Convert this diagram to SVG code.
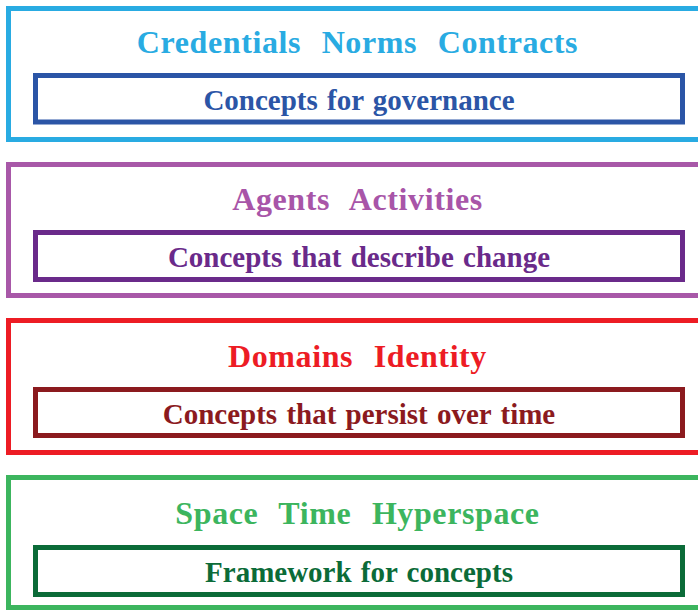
<svg xmlns="http://www.w3.org/2000/svg" width="698" height="610" viewBox="0 0 698 610">
  <style>
    .frame { fill: none; stroke-width: 5; }
    .inner { fill: none; stroke-width: 5; }
    text { font-family: "Liberation Serif", "Times New Roman", serif; font-weight: bold; text-anchor: middle; }
    .title { font-size: 32px; word-spacing: 12px; letter-spacing: 0.6px; }
    .sub { font-size: 29px; word-spacing: 2px; }
  </style>
  <rect width="698" height="610" fill="#ffffff"/>

  <!-- Layer 1: governance -->
  <g id="layer-governance">
    <rect class="frame" x="8.5" y="8.5" width="720" height="131" stroke="#29abe2"/>
    <text class="title" x="357.5" y="53" fill="#29abe2">Credentials Norms Contracts</text>
    <rect class="inner" x="35.5" y="75.5" width="647" height="46.5" stroke="#2b55a6"/>
    <text class="sub" x="359" y="110" fill="#2b55a6">Concepts for governance</text>
  </g>

  <!-- Layer 2: change -->
  <g id="layer-change">
    <rect class="frame" x="8.5" y="164.5" width="720" height="131" stroke="#a858a8"/>
    <text class="title" x="357.5" y="210" fill="#a855a8">Agents Activities</text>
    <rect class="inner" x="35.5" y="232.5" width="647" height="47" stroke="#6a2a8a"/>
    <text class="sub" x="359" y="267" fill="#6a2a8a">Concepts that describe change</text>
  </g>

  <!-- Layer 3: persistence -->
  <g id="layer-persistence">
    <rect class="frame" x="8.5" y="320.5" width="720" height="132" stroke="#ed1c24"/>
    <text class="title" x="357.5" y="367" fill="#ed1c24">Domains Identity</text>
    <rect class="inner" x="35.5" y="389.5" width="647" height="46" stroke="#8b1a1e"/>
    <text class="sub" x="359" y="424" fill="#8b1a1e">Concepts that persist over time</text>
  </g>

  <!-- Layer 4: framework -->
  <g id="layer-framework">
    <rect class="frame" x="8.5" y="477.5" width="720" height="130" stroke="#3cb55e"/>
    <text class="title" x="357.5" y="524" fill="#3cb55e">Space Time Hyperspace</text>
    <rect class="inner" x="35.5" y="547.5" width="647" height="47" stroke="#0b6b38"/>
    <text class="sub" x="359" y="582" fill="#0b6b38">Framework for concepts</text>
  </g>
</svg>
